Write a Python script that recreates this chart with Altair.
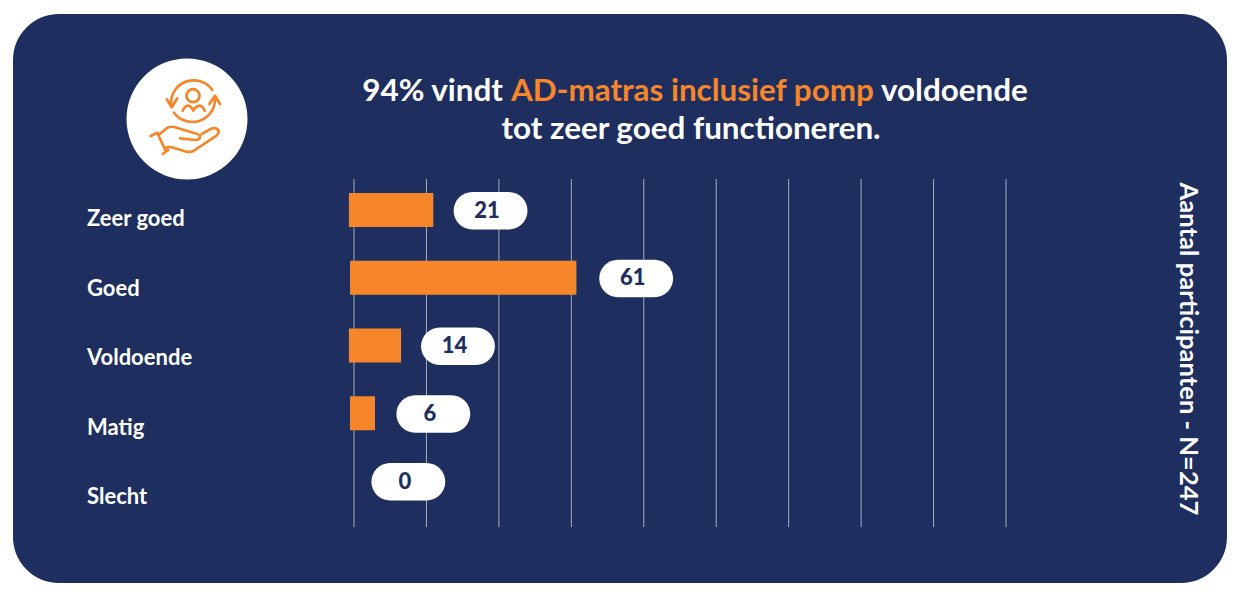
import altair as alt
import pandas as pd

categories = ["Zeer goed", "Goed", "Voldoende", "Matig", "Slecht"]
values = [21, 61, 14, 6, 0]
bar_start = [-1.4, -1.1, -1.4, -1.1, None]
bar_end = [21.9, 61.4, 13.0, 5.8, None]
pill_left = [27.5, 67.7, 18.5, 11.7, 4.8]
pill_right = [47.9, 88.1, 38.9, 32.1, 25.2]
grid_ticks = [0, 20, 40, 60, 80, 100, 120, 140, 160, 180]
title_white_1 = "94% vindt"
title_orange = "AD-matras inclusief pomp"
title_white_2 = "voldoende"
title_line_2 = "tot zeer goed functioneren."
side_title = "Aantal participanten - N=247"

NAVY = "#1E2F5F"
ORANGE = "#F7862A"
FONT = "Lato"

df = pd.DataFrame({
    "cat": categories, "value": values, "start": bar_start, "end": bar_end,
    "left": pill_left, "right": pill_right,
})
df["mid"] = (df["left"] + df["right"]) / 2
bars_df = df.dropna(subset=["start"])
one = alt.Data(values=[{"a": 1}])

x_scale = alt.Scale(domain=[0, 180], range=[346, 998])
y_bar = alt.Y("cat:N", axis=None, scale=alt.Scale(type="point", domain=categories, range=[202, 473], padding=0))
y_pill = alt.Y("cat:N", axis=None, scale=alt.Scale(type="point", domain=categories, range=[202.7, 473.7], padding=0))
y_label = alt.Y("cat:N", axis=None, scale=alt.Scale(type="point", domain=categories, range=[211, 489], padding=0))

card = alt.Chart(one).mark_rect(color=NAVY, cornerRadius=46).encode(
    x=alt.value(5), x2=alt.value(1219), y=alt.value(6), y2=alt.value(575))

grid = alt.Chart(pd.DataFrame({"t": grid_ticks})).mark_rule(color="#FFFFFF", opacity=0.6, strokeWidth=1).encode(
    x=alt.X("t:Q", scale=x_scale, axis=None), y=alt.value(171), y2=alt.value(519))

bars = alt.Chart(bars_df).mark_bar(color=ORANGE, size=34).encode(
    x=alt.X("start:Q", scale=x_scale, axis=None), x2="end:Q", y=y_bar)

pills = alt.Chart(df).mark_bar(color="#FFFFFF", size=37.5, cornerRadius=18.7).encode(
    x=alt.X("left:Q", scale=x_scale, axis=None), x2="right:Q", y=y_pill)

pill_text = alt.Chart(df).mark_text(font=FONT, fontWeight=900, fontSize=22, color=NAVY, dx=-3.5).encode(
    x=alt.X("mid:Q", scale=x_scale, axis=None), y=y_pill, text="value:Q")

cat_text = alt.Chart(df).mark_text(font=FONT, fontWeight="bold", fontSize=22, color="#FFFFFF", align="left").encode(
    x=alt.value(79), y=y_label, text="cat:N")


def label(text, x, y, size=31.4, color="#FFFFFF", align="left", angle=0):
    return alt.Chart(one).mark_text(
        text=text, font=FONT, fontWeight="bold", fontSize=size, color=color, align=align, angle=angle
    ).encode(x=alt.value(x), y=alt.value(y))


t1 = label(title_white_1, 495, 83.5, align="right")
t2 = label(title_orange, 503, 83.5, color=ORANGE)
t3 = label(title_white_2, 873, 83.5)
t4 = label(title_line_2, 683, 121.5, align="center")
side = label(side_title, 1180, 341, size=25.6, align="center", angle=90)

disc = alt.Chart(one).mark_point(filled=True, color="#FFFFFF", opacity=1, size=14641, shape="circle").encode(
    x=alt.value(179), y=alt.value(111))

ICON_PATH = (
    "M-16,-15.7 A22.7,22.7 0 0 1 25.3,-29 "
    "M-13,-6.3 A22.7,22.7 0 0 0 28,-19 "
    "M-20.3,-19.7 L-15.3,-11.7 L-9.7,-20.7 "
    "M22.3,-15 L28,-23.3 L33,-15 "
    "M12.5,-23.3 A6.5,6.5 0 1 1 -0.5,-23.3 A6.5,6.5 0 1 1 12.5,-23.3 "
    "M-4.3,-8.3 Q-2,-13.3 1.3,-13.3 Q4,-13 6.3,-8.3 Q9,-13 12.3,-13.3 Q15.5,-13.3 17.7,-8.3 "
    "M-36.3,17 L-29.7,13.7 L-21,32.7 M-24.3,35 L-18.7,31 "
    "M-28.7,16 L-18.7,8.3 Q-15.5,7.2 -12,8.3 L8,14.3 Q13,15.5 13,17.7 Q13,21 8,21 L-7,19.3 "
    "M14.7,15 L24.7,9.3 Q29,8.3 31.3,11 Q32.5,15 28,17.7 L8,31 Q4.7,33.7 -0.3,32.7 "
    "L-15.3,28.3 Q-18.7,27 -21.3,29.3"
)
icon = alt.Chart(one).mark_point(
    filled=False, stroke=ORANGE, fill=None, strokeWidth=2.7, opacity=1, size=4, shape=ICON_PATH,
    strokeCap="round", strokeJoin="round",
).encode(x=alt.value(179), y=alt.value(111))

chart = alt.layer(
    card, grid, bars, pills, pill_text, cat_text, t1, t2, t3, t4, side, disc, icon
).resolve_scale(y="independent").properties(
    width=1225, height=584, padding=0, autosize=alt.AutoSizeParams(type="none"), background="#FFFFFF"
).configure_view(stroke=None)

chart.save("out.html", embed_options={"renderer": "svg", "actions": False})
